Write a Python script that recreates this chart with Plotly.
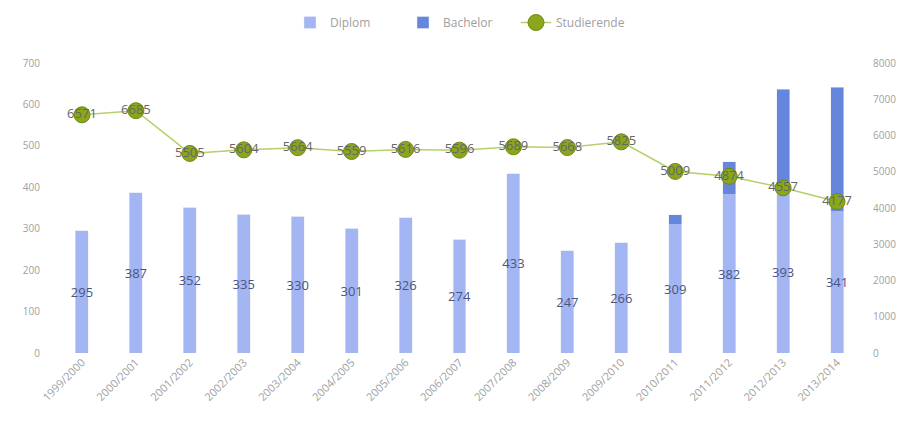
import plotly.graph_objects as go

semesters = ["1999/2000", "2000/2001", "2001/2002", "2002/2003", "2003/2004",
             "2004/2005", "2005/2006", "2006/2007", "2007/2008", "2008/2009",
             "2009/2010", "2010/2011", "2011/2012", "2012/2013", "2013/2014"]
diplom = [295, 387, 352, 335, 330, 301, 326, 274, 433, 247, 266, 309, 382, 393, 341]
bachelor = [0, 0, 0, 0, 0, 0, 0, 0, 0, 0, 0, 25, 80, 244, 301]
studierende = [6571, 6685, 5505, 5604, 5664, 5559, 5616, 5596, 5689, 5668,
               5825, 5009, 4874, 4557, 4177]

FONT = "Open Sans"
TICK = "#a0a0a0"

fig = go.Figure()
fig.add_trace(go.Bar(
    x=semesters, y=diplom, name="Diplom",
    marker=dict(color="#a3b6f3"),
    text=diplom, textposition="inside", insidetextanchor="middle",
    textfont=dict(color="#4a5580", size=13, family=FONT),
    textangle=0,
))
fig.add_trace(go.Bar(
    x=semesters, y=bachelor, name="Bachelor",
    marker=dict(color="#6685dd"),
))
fig.add_trace(go.Scatter(
    x=semesters, y=studierende, name="Studierende", yaxis="y2",
    mode="lines+markers+text",
    line=dict(color="#b4d06a", width=1.5),
    marker=dict(color="#8aa61c", size=16, line=dict(color="#6e8a10", width=1)),
    text=[str(v) for v in studierende], textposition="middle center",
    textfont=dict(color="#666666", size=13, family=FONT),
))

fig.update_layout(
    width=922, height=440,
    barmode="stack", bargap=0.76,
    plot_bgcolor="white", paper_bgcolor="white",
    margin=dict(l=47, r=66, t=55, b=95, autoexpand=False),
    font=dict(family=FONT, color=TICK, size=10),
    uniformtext=dict(minsize=13, mode="show"),
    legend=dict(orientation="h", x=0.5, xanchor="center", y=1.0, yanchor="top",
                yref="container", traceorder="normal",
                entrywidth=68, entrywidthmode="pixels",
                font=dict(size=12, color="#a0a0a0")),
    xaxis=dict(range=[-0.5, 14.5], tickangle=-45,
               tickfont=dict(size=11, color="#a0a0a0"),
               showgrid=False, showline=False, ticks="", automargin=False),
    yaxis=dict(range=[0, 700], dtick=100, showgrid=False, zeroline=False,
               ticklabelstandoff=14,
               tickfont=dict(size=10, color=TICK), automargin=False),
    yaxis2=dict(range=[0, 8000], dtick=1000, overlaying="y", side="right",
                ticklabelstandoff=8,
                showgrid=False, zeroline=False, tickfont=dict(size=10, color=TICK),
                automargin=False),
    showlegend=True,
)

fig.write_html("out.html")
